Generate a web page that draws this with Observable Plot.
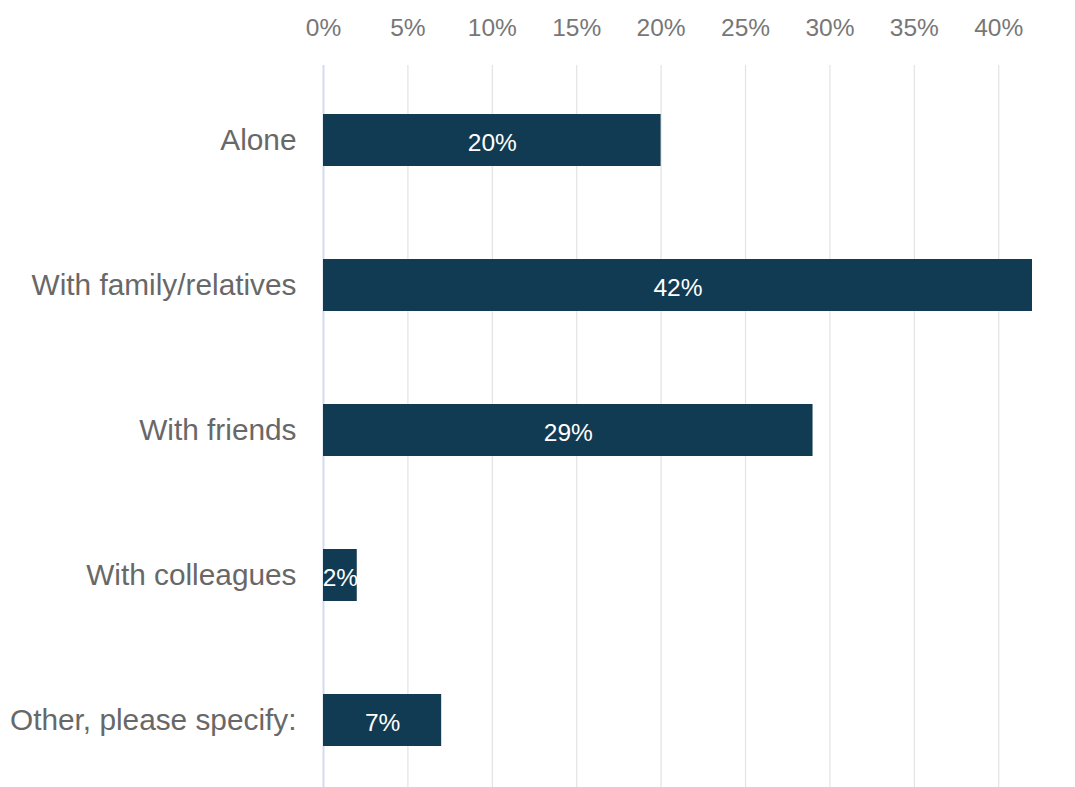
<!DOCTYPE html>
<html>
<head>
<meta charset="utf-8">
<script src="https://cdn.jsdelivr.net/npm/d3@7"></script>
<script src="https://cdn.jsdelivr.net/npm/@observablehq/plot@0.6"></script>
<style>
  html, body { margin: 0; padding: 0; background: #ffffff; }
  #chart svg { display: block; }
</style>
</head>
<body>
<div id="chart"></div>
<script>
const categories = ["Alone", "With family/relatives", "With friends", "With colleagues", "Other, please specify:"];
const values = [20, 42, 29, 2, 7];
const xTicks = [0, 5, 10, 15, 20, 25, 30, 35, 40];

const data = categories.map((c, i) => ({category: c, value: values[i]}));

const chart = Plot.plot({
  width: 1075,
  height: 787,
  marginLeft: 323,
  marginRight: 43,
  marginTop: 65,
  marginBottom: 0,
  style: {fontFamily: "'Liberation Sans', Arial, sans-serif", background: "#ffffff"},
  x: {domain: [0, 42], axis: null},
  y: {domain: categories, axis: null, paddingInner: 0.643, paddingOuter: 0, insetTop: 47, insetBottom: 39},
  marks: [
    Plot.gridX(xTicks.filter(d => d > 0), {stroke: "#e3e3e3", strokeOpacity: 1, strokeWidth: 1.2}),
    Plot.ruleX([0], {stroke: "#d4dcec", strokeWidth: 2}),
    Plot.axisX(xTicks, {anchor: "top", label: null, tickSize: 0, tickPadding: 30, tickFormat: d => d + "%", fontSize: 24.5, fill: "#777777"}),
    Plot.axisY({anchor: "left", label: null, tickSize: 0, tickPadding: 27, fontSize: 29.8, fill: "#686868"}),
    Plot.barX(data, {x: "value", y: "category", fill: "#113b52"}),
    Plot.text(data, {x: d => d.value / 2, y: "category", text: d => d.value + "%", fill: "#ffffff", fontSize: 24.5, fontWeight: 500, dy: 3})
  ]
});
document.getElementById("chart").appendChild(chart);
</script>
</body>
</html>
